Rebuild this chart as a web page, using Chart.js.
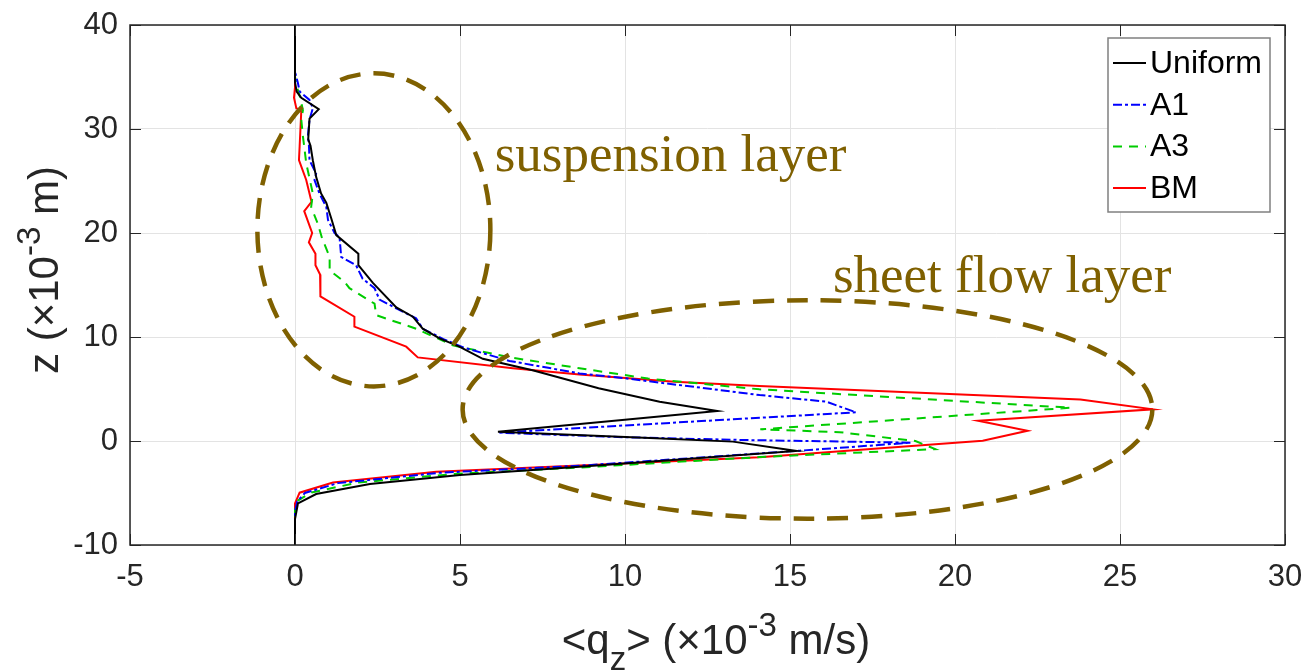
<!DOCTYPE html>
<html>
<head>
<meta charset="utf-8">
<title>Vertical flux profiles</title>
<script src="https://cdn.jsdelivr.net/npm/chart.js@4.4.1/dist/chart.umd.min.js"></script>
<style>
  html, body { margin: 0; padding: 0; background: #ffffff; }
  #wrap { width: 1306px; height: 671px; position: relative; }
</style>
</head>
<body>
<div id="wrap"><canvas id="chart"></canvas></div>
<script>
// --- data: <q_z> (x1e-3 m/s) against z (x1e-3 m) ---
const uniformQ = [0, 0, 0.05, 0.19, 0.72, 0.44, 0.40, 0.47, 0.54, 0.64, 0.79, 0.95, 1.1, 1.25, 1.92, 1.92, 2.36, 3.07, 3.57, 3.87, 4.38, 4.98, 5.69, 7.2, 9.2, 11.05, 12.8, 6.15, 10.75, 13.27, 15.2, 8.62, 5.0, 2.27, 0.64, 0.09, 0, 0];
const uniformZ = [40, 34.5, 33.6, 33.0, 31.9, 31.0, 29.0, 28.4, 27.0, 25.4, 23.8, 22.9, 21.4, 19.8, 18.0, 16.9, 15.2, 12.85, 11.95, 10.8, 9.87, 9.07, 7.9, 6.8, 5.07, 3.78, 2.88, 0.9, 0.3, -0.06, -0.96, -2.47, -3.27, -4.13, -5.1, -6.0, -7.5, -10];

const a1Q = [0, 0, 0.09, 0.14, 0.44, 0.54, 0.44, 0.39, 0.42, 0.44, 0.64, 0.59, 0.74, 0.95, 1.0, 1.2, 1.35, 1.4, 1.85, 2.05, 2.41, 2.56, 3.1, 3.67, 3.87, 4.5, 5.1, 6.5, 8.62, 10.0, 14.08, 16.1, 17.0, 6.15, 10.0, 13.5, 18.67, 15.3, 8.62, 4.4, 1.3, 0.3, 0.07, 0, 0];
const a1Z = [40, 35.5, 34.4, 33.6, 32.8, 32.0, 30.9, 29.3, 28.6, 27.0, 25.7, 25.1, 23.8, 22.5, 21.25, 20.0, 19.6, 17.7, 16.9, 15.6, 14.7, 13.6, 12.7, 11.8, 10.8, 9.8, 9.0, 7.7, 6.5, 6.03, 4.42, 3.78, 2.76, 0.8, 0.36, 0.1, -0.16, -0.93, -2.38, -3.05, -4.05, -5.0, -5.8, -6.8, -10];

const a3Q = [0, 0, 0.09, 0.16, 0.24, 0.19, 0.24, 0.28, 0.34, 0.54, 0.49, 0.69, 0.82, 1.05, 1.05, 1.5, 1.65, 2.41, 2.46, 3.67, 4.78, 6.5, 8.62, 10.7, 14.07, 23.5, 14.1, 16.5, 18.8, 19.4, 14.07, 8.62, 4.9, 1.9, 0.5, 0.1, 0, 0];
const a3Z = [40, 35, 33.75, 33.0, 31.8, 30.9, 29.3, 28.3, 26.7, 23.8, 22.5, 20.9, 19.5, 17.7, 16.4, 15.3, 14.7, 13.2, 12.1, 10.8, 9.2, 8.05, 7.0, 6.0, 4.97, 3.2, 1.12, 0.85, 0.0, -0.78, -1.55, -2.55, -3.15, -4.0, -4.95, -5.7, -6.6, -10];

const bmQ = [0, 0, -0.03, 0.04, 0.19, 0.14, 0.12, 0.34, 0.5, 0.28, 0.52, 0.42, 0.62, 0.62, 0.76, 0.77, 1.8, 1.8, 3.37, 3.72, 6.6, 8.62, 11.5, 14.07, 23.8, 26.0, 20.7, 22.2, 20.84, 14.07, 8.62, 4.28, 1.15, 0.14, 0, 0];
const bmZ = [40, 34, 33, 32, 31.7, 28.3, 27, 25.1, 23.0, 22.1, 20.0, 19.1, 18.0, 16.9, 16.0, 13.9, 11.95, 11.0, 9.07, 8.04, 7.0, 6.4, 5.7, 5.29, 4.0, 3.05, 1.95, 0.99, 0.03, -1.57, -2.35, -2.95, -4.0, -4.97, -6.0, -10];

const seriesNames = ['Uniform', 'A1', 'A3', 'BM'];
const xTicks = [-5, 0, 5, 10, 15, 20, 25, 30];
const yTicks = [-10, 0, 10, 20, 30, 40];

// annotation ellipses in data units: [centre q, centre z, radius q, radius z]
const suspensionEllipse = [2.39, 20.3, 3.53, 15.05];
const sheetFlowEllipse = [15.53, 3.03, 10.45, 10.5];
const annotationLabels = ['suspension layer', 'sheet flow layer'];
const annotationAt = [[6.05, 26.0], [16.3, 14.3]];

const FONT = '"Liberation Sans", Arial, Helvetica, sans-serif';
const TEXT = '#262626';
const OLIVE = '#7f6000';

function toPoints(qs, zs) {
    return qs.map((q, i) => ({ x: q, y: zs[i] }));
}

const styles = [
    { color: '#000000', dash: [] },
    { color: '#0000ff', dash: [9, 3, 3, 3] },
    { color: '#00cc00', dash: [9, 7] },
    { color: '#ff0000', dash: [] }
];
const pointSets = [
    toPoints(uniformQ, uniformZ),
    toPoints(a1Q, a1Z),
    toPoints(a3Q, a3Z),
    toPoints(bmQ, bmZ)
];

// draw a string made of normal / sub / sup parts, centred on x
function drawRich(ctx, parts, x, y, size) {
    const small = Math.round(size * 0.78);
    const widths = parts.map(p => {
        ctx.font = (p.sub || p.sup ? small : size) + 'px ' + FONT;
        return ctx.measureText(p.t).width;
    });
    let cx = x - widths.reduce((a, b) => a + b, 0) / 2;
    ctx.textBaseline = 'alphabetic';
    ctx.textAlign = 'left';
    parts.forEach((p, i) => {
        ctx.font = (p.sub || p.sup ? small : size) + 'px ' + FONT;
        let dy = 0;
        if (p.sub) dy = size * 0.38;
        if (p.sup) dy = -size * 0.42;
        ctx.fillText(p.t, cx, y + dy);
        cx += widths[i];
    });
}

const decorPlugin = {
    id: 'decor',
    afterDatasetsDraw(chart) {
        const ctx = chart.ctx;
        const xs = chart.scales.x, ys = chart.scales.y;
        const area = chart.chartArea;

        // dashed ellipses
        ctx.save();
        ctx.strokeStyle = OLIVE;
        ctx.lineWidth = 4.5;
        ctx.setLineDash([21, 13]);
        [suspensionEllipse, sheetFlowEllipse].forEach(e => {
            const cx = xs.getPixelForValue(e[0]);
            const cy = ys.getPixelForValue(e[1]);
            const rx = Math.abs(xs.getPixelForValue(e[0] + e[2]) - cx);
            const ry = Math.abs(ys.getPixelForValue(e[1] + e[3]) - cy);
            ctx.beginPath();
            ctx.ellipse(cx, cy, rx, ry, 0, 0, Math.PI * 2);
            ctx.stroke();
        });
        ctx.restore();

        // layer labels
        ctx.save();
        ctx.fillStyle = OLIVE;
        ctx.font = '53px "Liberation Serif", "Times New Roman", serif';
        ctx.textBaseline = 'alphabetic';
        ctx.textAlign = 'left';
        annotationLabels.forEach((t, i) => {
            ctx.fillText(t, xs.getPixelForValue(annotationAt[i][0]), ys.getPixelForValue(annotationAt[i][1]));
        });
        ctx.restore();

        // inward tick marks + axes box
        ctx.save();
        ctx.strokeStyle = TEXT;
        ctx.lineWidth = 1;
        ctx.beginPath();
        xTicks.forEach(v => {
            const px = Math.round(xs.getPixelForValue(v)) + 0.5;
            ctx.moveTo(px, area.bottom); ctx.lineTo(px, area.bottom - 11);
            ctx.moveTo(px, area.top); ctx.lineTo(px, area.top + 11);
        });
        yTicks.forEach(v => {
            const py = Math.round(ys.getPixelForValue(v)) + 0.5;
            ctx.moveTo(area.left, py); ctx.lineTo(area.left + 11, py);
            ctx.moveTo(area.right, py); ctx.lineTo(area.right - 11, py);
        });
        ctx.stroke();
        ctx.lineWidth = 1.5;
        ctx.strokeRect(area.left, area.top, area.right - area.left, area.bottom - area.top);
        ctx.restore();

        // legend box
        ctx.save();
        const lx = 1108, ly = 38, lw = 162, lh = 174;
        ctx.fillStyle = '#ffffff';
        ctx.fillRect(lx, ly, lw, lh);
        ctx.strokeStyle = '#808080';
        ctx.lineWidth = 1.5;
        ctx.strokeRect(lx, ly, lw, lh);
        ctx.font = '32px ' + FONT;
        ctx.textBaseline = 'middle';
        ctx.textAlign = 'left';
        seriesNames.forEach((name, i) => {
            const yy = 63 + i * 41.7;
            ctx.strokeStyle = styles[i].color;
            ctx.lineWidth = 2;
            ctx.setLineDash(styles[i].dash);
            ctx.beginPath();
            ctx.moveTo(1113, yy); ctx.lineTo(1146, yy);
            ctx.stroke();
            ctx.setLineDash([]);
            ctx.fillStyle = '#000000';
            ctx.fillText(name, 1150, yy + 1);
        });
        ctx.restore();
    },
    afterDraw(chart) {
        const ctx = chart.ctx;
        ctx.save();
        ctx.fillStyle = TEXT;
        drawRich(ctx, [
            { t: '<q' }, { t: 'z', sub: true }, { t: '> (×10' }, { t: '-3', sup: true }, { t: ' m/s)' }
        ], 716, 654, 42);
        ctx.translate(58, 270);
        ctx.rotate(-Math.PI / 2);
        drawRich(ctx, [
            { t: 'z (×10' }, { t: '-3', sup: true }, { t: ' m)' }
        ], 0, 0, 42);
        ctx.restore();
    }
};

const ctx = document.getElementById('chart').getContext('2d');
new Chart(ctx, {
    type: 'scatter',
    data: {
        datasets: seriesNames.map((name, i) => ({
            label: name,
            data: pointSets[i],
            showLine: true,
            borderColor: styles[i].color,
            borderDash: styles[i].dash,
            borderWidth: 2,
            pointRadius: 0,
            tension: 0,
            fill: false
        }))
    },
    options: {
        responsive: true,
        maintainAspectRatio: false,
        animation: false,
        layout: { padding: { left: 0, right: 21, top: 25, bottom: 0 } },
        plugins: {
            legend: { display: false },
            tooltip: { enabled: false }
        },
        scales: {
            x: {
                type: 'linear',
                min: -5, max: 30,
                afterFit: s => { s.height = 126; s.paddingLeft = 0; s.paddingRight = 0; },
                afterBuildTicks: s => { s.ticks = xTicks.map(v => ({ value: v })); },
                ticks: { color: TEXT, font: { family: FONT, size: 31 }, padding: 14, maxRotation: 0 },
                grid: { color: '#e3e3e3', lineWidth: 1, drawTicks: false },
                border: { display: false }
            },
            y: {
                type: 'linear',
                min: -10, max: 40,
                afterFit: s => { s.width = 130; s.paddingTop = 0; s.paddingBottom = 0; },
                afterBuildTicks: s => { s.ticks = yTicks.map(v => ({ value: v })); },
                ticks: { color: TEXT, font: { family: FONT, size: 31 }, padding: 12 },
                grid: { color: '#e3e3e3', lineWidth: 1, drawTicks: false },
                border: { display: false }
            }
        }
    },
    plugins: [decorPlugin]
});
</script>
</body>
</html>
